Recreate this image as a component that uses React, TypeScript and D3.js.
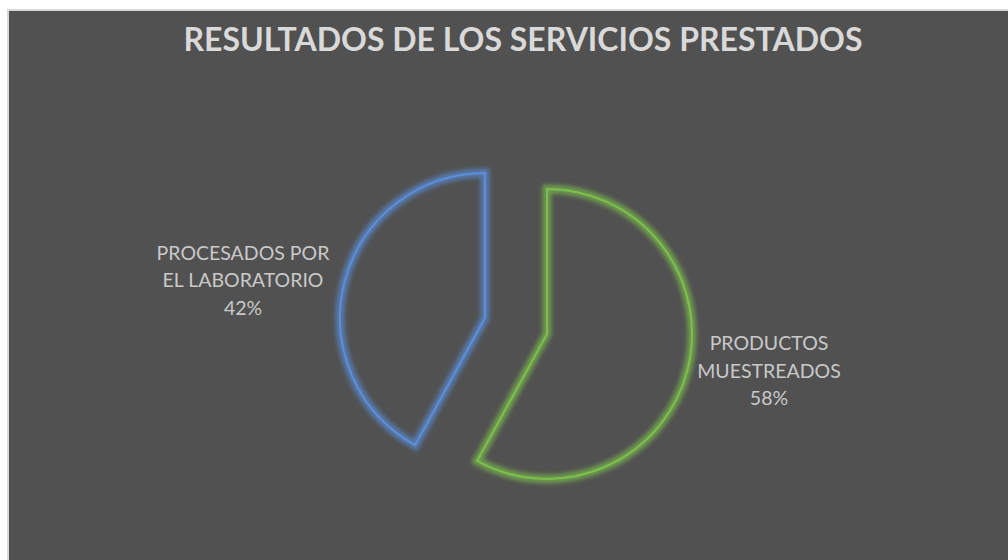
import React from "react";
import * as d3 from "d3";

const title = "RESULTADOS DE LOS SERVICIOS PRESTADOS";
const categories = ["PRODUCTOS MUESTREADOS", "PROCESADOS POR EL LABORATORIO"];
const labelLines = [["PRODUCTOS", "MUESTREADOS"], ["PROCESADOS POR", "EL LABORATORIO"]];
const values = [58, 42];
const colors = ["#7cc04b", "#5b8fdb"];
const explode = [64, 0];
const labelOffsets = [[222, 44], [-242, -31]];

const W = 1008, H = 560;
const cx = 485, cy = 318, R = 145;

export default function App() {
  const total = d3.sum(values);
  const pie = d3.pie<number>().sort(null).startAngle(0).endAngle(2 * Math.PI)(values);
  const arc = d3.arc<d3.PieArcDatum<number>>().innerRadius(0).outerRadius(R);
  const font = "Lato, 'Open Sans', sans-serif";
  return (
    <svg width={W} height={H} style={{ position: "absolute", left: 0, top: 0 }}>
      <defs>
        {colors.map((c, i) => (
          <filter key={i} id={`glow${i}`} x="-20%" y="-20%" width="140%" height="140%">
            <feGaussianBlur in="SourceGraphic" stdDeviation="2.2" />
          </filter>
        ))}
      </defs>
      <rect x={0} y={0} width={W} height={H} fill="#ffffff" />
      <rect x={8} y={10} width={W} height={H} fill="#515151" stroke="#d9d9d9" strokeWidth={2} />
      <text x={523} y={51} textAnchor="middle" fill="#d9d9d9" fontFamily={font} fontWeight="bold" fontSize={32}
        textLength={679} lengthAdjust="spacingAndGlyphs">{title}</text>
      {pie.map((p, i) => {
        const mid = (p.startAngle + p.endAngle) / 2;
        const ox = cx + Math.sin(mid) * explode[i];
        const oy = cy - Math.cos(mid) * explode[i];
        const d = arc(p) || "";
        const lx = ox + labelOffsets[i][0];
        const ly = oy + labelOffsets[i][1];
        const pct = Math.round((values[i] / total) * 100) + "%";
        const lines = [...labelLines[i], pct];
        return (
          <g key={categories[i]}>
            <g transform={`translate(${ox},${oy})`}>
              <path d={d} fill="none" stroke={colors[i]} strokeWidth={9} strokeOpacity={0.65}
                strokeLinejoin="miter" filter={`url(#glow${i})`} />
              <path d={d} fill="none" stroke={colors[i]} strokeWidth={2} strokeLinejoin="miter" />
            </g>
            <text textAnchor="middle" fill="#c9c9c9" fontFamily={font} fontSize={19.5}>
              {lines.map((t, j) => (
                <tspan key={j} x={lx} y={ly + (j - 1) * 27.5}>{t}</tspan>
              ))}
            </text>
          </g>
        );
      })}
    </svg>
  );
}
